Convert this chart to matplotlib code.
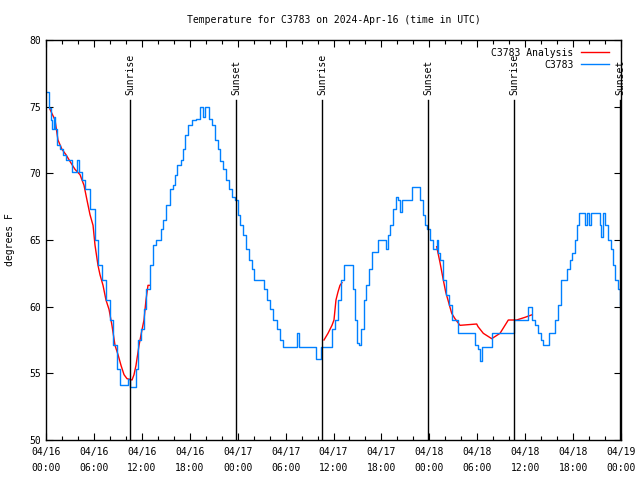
import numpy as np
import matplotlib
matplotlib.use('Agg')
import matplotlib.pyplot as plt
from matplotlib.ticker import MultipleLocator

plt.rcParams['font.family'] = 'DejaVu Sans Mono'
plt.rcParams['font.size'] = 7

# observed station temperature (hours since 04/16 00:00 UTC, deg F)
obs_hours = [0.13, 0.38, 0.63, 0.75, 1.0, 1.13, 1.38, 1.75, 2.13, 2.5, 3.26, 3.76, 3.88, 4.13,
             4.51, 4.88, 5.51, 6.14, 6.51, 7.01, 7.51, 8.01, 8.39, 8.89, 9.27, 10.02, 10.27,
             10.52, 11.27, 11.52, 11.9, 12.27, 12.52, 13.02, 13.4, 13.77, 14.4, 14.65, 15.03,
             15.53, 15.9, 16.15, 16.4, 16.9, 17.16, 17.41, 17.78, 18.28, 18.78, 19.28, 19.66,
             19.91, 20.41, 20.79, 21.16, 21.54, 21.79, 22.16, 22.54, 22.92, 23.29, 23.67, 24.04,
             24.29, 24.67, 25.04, 25.42, 25.8, 26.05, 27.3, 27.67, 28.05, 28.42, 28.93, 29.3,
             29.68, 31.43, 31.68, 33.75, 34.44, 35.81, 36.19, 36.56, 36.94, 37.32, 38.44, 38.69,
             38.94, 39.19, 39.44, 39.82, 40.07, 40.44, 40.82, 41.57, 42.57, 42.83, 43.08, 43.45,
             43.83, 44.08, 44.33, 44.58, 45.83, 46.83, 47.21, 47.46, 47.71, 48.08, 48.46, 48.96,
             49.08, 49.34, 49.71, 50.09, 50.46, 50.84, 51.59, 53.72, 54.1, 54.35, 54.6, 55.85,
             58.6, 60.36, 60.86, 61.23, 61.61, 61.98, 62.23, 62.99, 63.74, 64.11, 64.49, 65.24,
             65.62, 65.87, 66.24, 66.49, 66.74, 67.49, 67.74, 67.99, 68.24, 69.37, 69.49, 69.74,
             69.99, 70.37, 70.75, 71.0, 71.25, 71.62, 71.87]
obs_temps = [76.1, 74.9, 74.0, 73.3, 74.2, 73.3, 72.1, 71.8, 71.4, 71.0, 70.1, 70.1, 71.0, 70.1,
             69.5, 68.8, 67.3, 65.0, 63.1, 62.0, 60.5, 59.0, 57.1, 55.3, 54.1, 54.1, 54.6,
             54.0, 55.3, 57.5, 58.3, 59.8, 61.3, 63.1, 64.6, 65.0, 65.8, 66.5, 67.6,
             68.8, 69.1, 69.9, 70.6, 71.0, 71.8, 72.9, 73.6, 74.0, 74.1, 75.0, 74.2,
             75.0, 74.1, 73.6, 72.5, 71.8, 70.9, 70.3, 69.5, 68.8, 68.2, 68.0, 66.9,
             66.1, 65.4, 64.3, 63.5, 62.8, 62.0, 61.3, 60.5, 59.8, 59.0, 58.3, 57.5,
             57.0, 58.0, 57.0, 56.1, 57.0, 58.3, 59.0, 60.5, 62.0, 63.1, 61.3, 59.0,
             57.3, 57.1, 58.3, 60.5, 61.6, 62.8, 64.1, 65.0, 64.3, 65.4, 66.1, 67.3,
             68.2, 68.0, 67.1, 68.0, 69.0, 68.0, 66.9, 66.1, 65.8, 65.0, 64.3, 65.0,
             64.0, 63.5, 62.0, 60.9, 60.1, 59.0, 58.0, 57.1, 56.8, 55.9, 57.0, 58.0,
             59.0, 60.0, 59.0, 58.6, 58.0, 57.5, 57.1, 58.0, 59.0, 60.1, 62.0, 62.8,
             63.5, 64.0, 65.0, 66.1, 67.0, 66.1, 67.0, 66.1, 67.0, 66.1, 65.2, 67.0,
             66.1, 65.0, 64.3, 63.1, 62.0, 61.3, 60.1]

# analysis series (NaN separates the three runs)
ana_hours = [0.5, 1.13, 1.5, 2.0, 2.5, 3.0, 3.63, 4.26, 4.76, 5.13, 5.51, 5.89, 6.14, 6.51,
             6.76, 7.14, 7.51, 7.89, 8.26, 8.64, 9.02, 9.39, 9.77, 10.14, 10.77, 11.02, 11.27,
             11.65, 11.9, 12.27, 12.52, 12.77, 13.02, np.nan,
             34.81, 35.31, 35.81, 36.06, 36.31, 36.56, 36.81, 37.06, np.nan,
             48.92, 49.34, 49.75, 50.05, 50.38, 50.8, 51.21, 51.84, 53.93, 54.1, 54.76, 55.81,
             56.85, 57.89, 58.93, 59.98, 60.89]
ana_temps = [74.8, 74.0, 72.5, 71.8, 71.4, 70.9, 70.3, 69.9, 69.1, 68.0, 66.9, 66.1, 64.6, 63.1,
             62.4, 61.6, 60.5, 59.8, 58.6, 57.1, 56.4, 55.6, 54.9, 54.6, 54.5, 54.9, 55.6,
             57.1, 57.9, 59.0, 60.5, 61.6, 61.6, np.nan,
             57.5, 58.0, 58.6, 59.0, 60.5, 61.1, 61.6, 61.8, np.nan,
             64.5, 63.3, 62.0, 61.1, 60.4, 59.5, 59.1, 58.6, 58.7, 58.5, 58.0, 57.6,
             58.0, 59.0, 59.0, 59.2, 59.4]

sun_hours = [10.52, 23.79, 34.56, 47.83, 58.6, 71.87]
sun_names = ['Sunrise', 'Sunset', 'Sunrise', 'Sunset', 'Sunrise', 'Sunset']

tick_hours = list(range(0, 73, 6))
tick_labels = ['04/16\n00:00', '04/16\n06:00', '04/16\n12:00', '04/16\n18:00',
               '04/17\n00:00', '04/17\n06:00', '04/17\n12:00', '04/17\n18:00',
               '04/18\n00:00', '04/18\n06:00', '04/18\n12:00', '04/18\n18:00',
               '04/19\n00:00']

fig = plt.figure(figsize=(6.4, 4.8), dpi=100)
ax = fig.add_axes([46 / 640, 1 - 440 / 480, 575 / 640, 400 / 480])

ax.plot(ana_hours, ana_temps, color='#ff0000', lw=1, label='C3783 Analysis')
ax.plot(obs_hours, obs_temps, color='#0080ff', lw=1, drawstyle='steps-post', label='C3783')

for h, name in zip(sun_hours, sun_names):
    ax.plot([h, h], [50, 75.5], color='black', lw=1)
    ax.text(h, 75.9, name, rotation=90, ha='center', va='bottom')

ax.set_xlim(0, 72)
ax.set_ylim(50, 80)
ax.set_xticks(tick_hours)
ax.set_xticklabels(tick_labels, linespacing=1.7)
ax.xaxis.set_minor_locator(MultipleLocator(2))
ax.set_yticks(range(50, 81, 5))
ax.tick_params(which='both', direction='in', top=True, right=True)
ax.tick_params(which='major', length=5, width=0.8)
ax.tick_params(which='minor', length=3, width=0.8)
ax.tick_params(axis='x', pad=5)
for s in ax.spines.values():
    s.set_linewidth(1)

ax.set_ylabel('degrees F', labelpad=10)
ax.set_title('Temperature for C3783 on 2024-Apr-16 (time in UTC)', fontsize=7, pad=12)

ax.legend(loc='upper right', frameon=False, markerfirst=False, handlelength=2.8,
          borderaxespad=0.4, labelspacing=0.2, handletextpad=0.8,
          bbox_to_anchor=(0.992, 1.0))

fig.savefig('out.png')
